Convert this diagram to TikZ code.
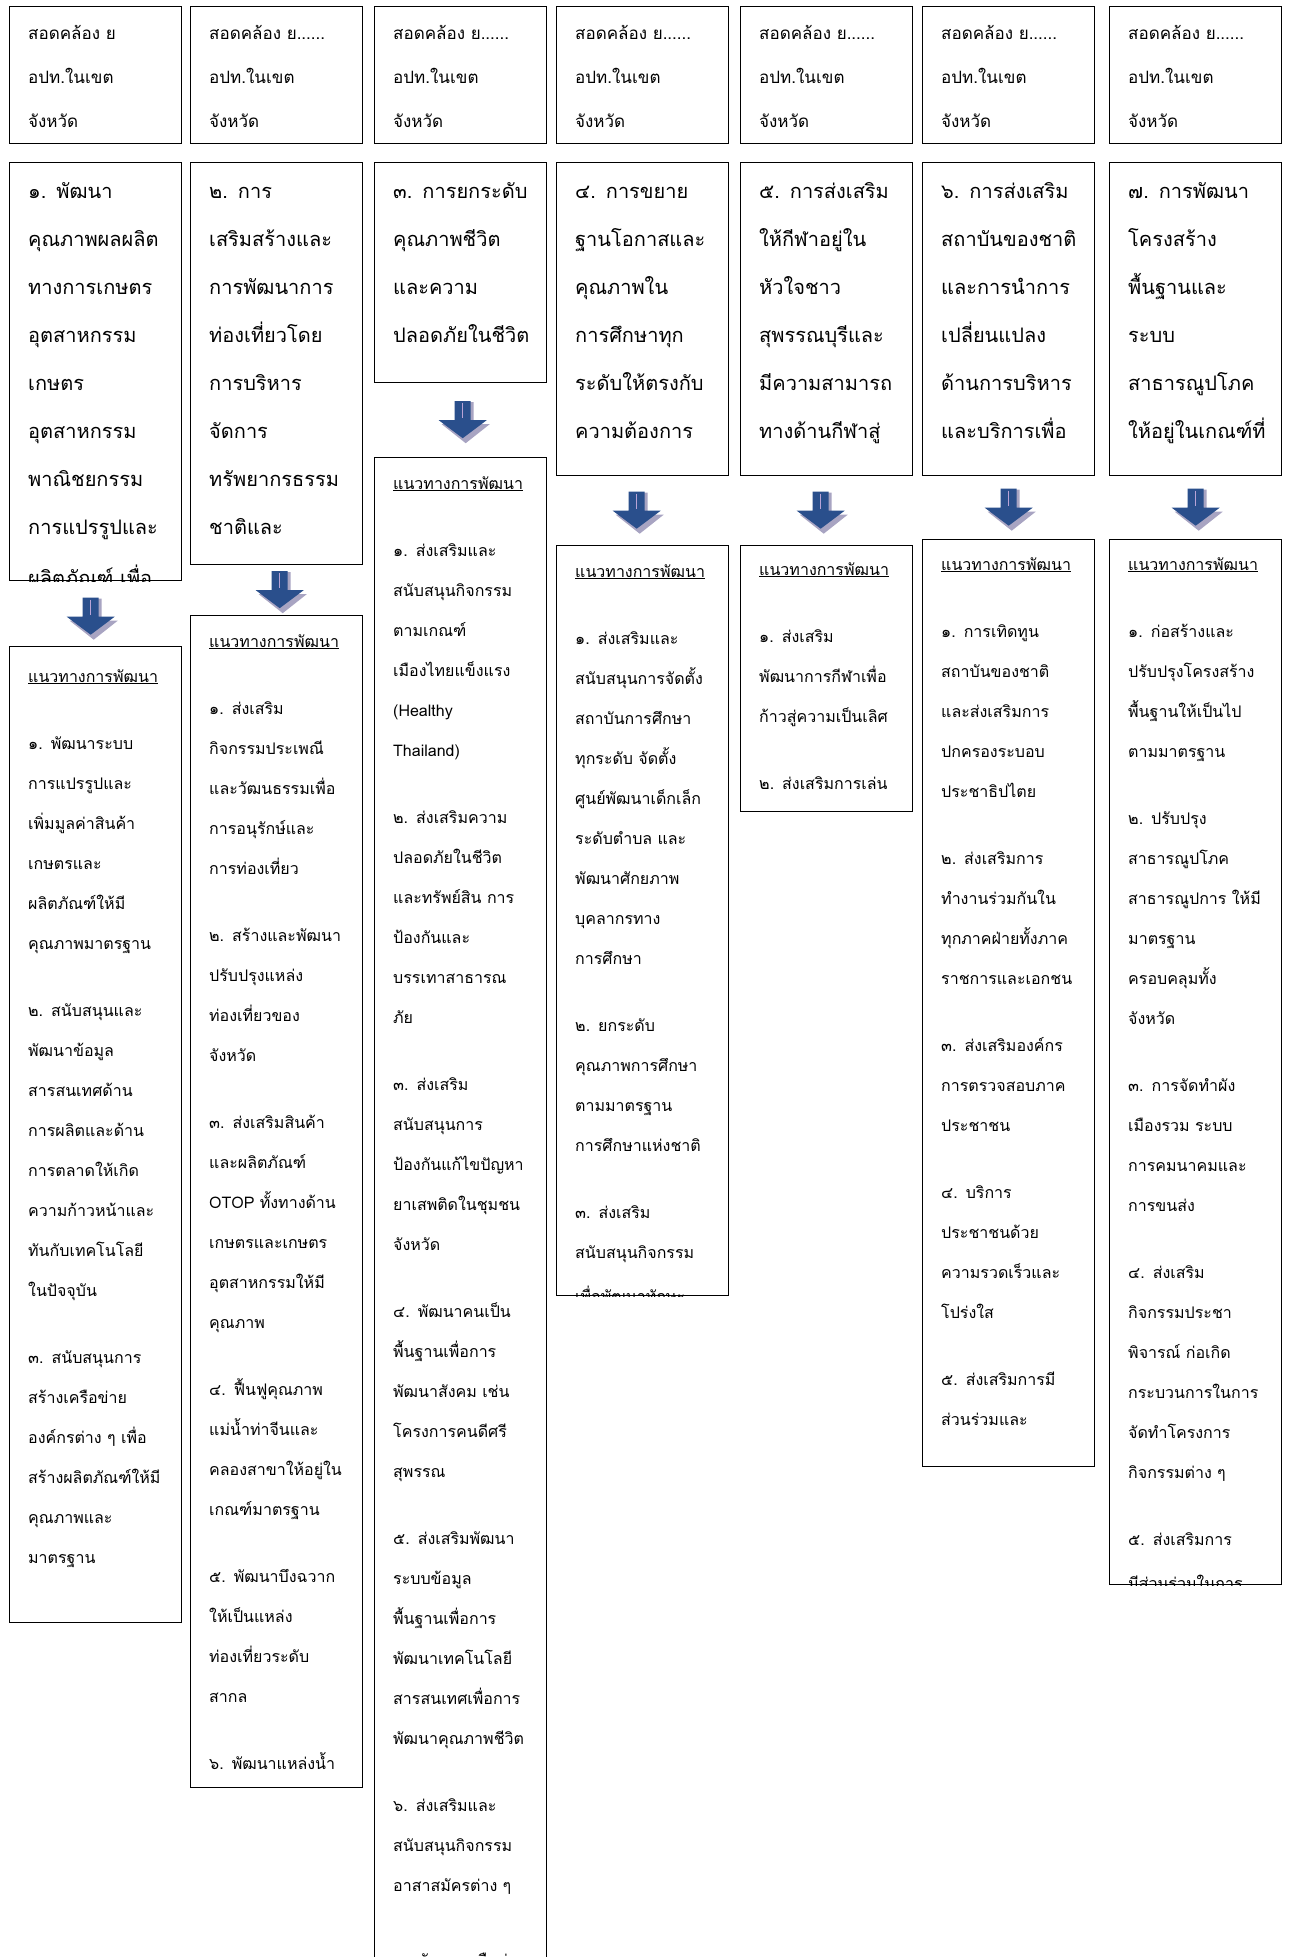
\documentclass[tikz,border=0pt]{standalone}
\usepackage{fontspec}
\setmainfont[Script=Thai]{Loma}
\usetikzlibrary{calc}
\definecolor{arrblue}{HTML}{2A4F8C}
\definecolor{arrshade}{HTML}{A8A4C2}
\definecolor{arrline}{HTML}{B9A3D6}

\begin{document}
\begin{tikzpicture}[x=1pt, y=-1pt,
  frame/.style={draw, line width=1.4pt, inner sep=0pt, anchor=north west,
                minimum width=172pt},
  link/.style={frame, minimum height=137pt},
  goal/.style={frame},
  way/.style={frame},
  toptxt/.style={font=\fontsize{17}{44}\selectfont, text width=165pt,
                 align=left, inner sep=0pt, anchor=base west},
  goaltxt/.style={font=\fontsize{20}{48}\selectfont, text width=165pt,
                  align=left, inner sep=0pt, anchor=base west},
  waytxt/.style={font=\fontsize{16}{40}\selectfont, text width=165pt,
                 align=left, inner sep=0pt, anchor=base west},
  downarr/.pic={
    \fill[arrshade] (-5,-18) -- (11,-18) -- (11,4) -- (27,4) -- (3,23) -- (-21,4) -- (-5,4) -- cycle;
    \fill[arrblue] (-8,-19) -- (8,-19) -- (8,0) -- (24,0) -- (0,18) -- (-24,0) -- (-8,0) -- cycle;
    \draw[arrline, line width=1.5pt] (0,-17) -- (0,-2);
  }
]
\path[fill=white] (0,0) rectangle (1290,1957);
\useasboundingbox (0,0) rectangle (1290,1957);

% Row 1: links to local plans
\node[link] (c1) at (9,6) {};
\node[link] (c2) at (190,6) {};
\node[link] (c3) at (374,6) {};
\node[link] (c4) at (556,6) {};
\node[link] (c5) at (740,6) {};
\node[link] (c6) at (922,6) {};
\node[link] (c7) at (1109,6) {};
\node[toptxt] (c1t) at ($(c1.north west)+(19,33)$) {สอดคล้อง ย\\อปท.ในเขต\\จังหวัด};
\node[toptxt] (c2t) at ($(c2.north west)+(19,33)$) {สอดคล้อง ย......\\อปท.ในเขต\\จังหวัด};
\node[toptxt] (c3t) at ($(c3.north west)+(19,33)$) {สอดคล้อง ย......\\อปท.ในเขต\\จังหวัด};
\node[toptxt] (c4t) at ($(c4.north west)+(19,33)$) {สอดคล้อง ย......\\อปท.ในเขต\\จังหวัด};
\node[toptxt] (c5t) at ($(c5.north west)+(19,33)$) {สอดคล้อง ย......\\อปท.ในเขต\\จังหวัด};
\node[toptxt] (c6t) at ($(c6.north west)+(19,33)$) {สอดคล้อง ย......\\อปท.ในเขต\\จังหวัด};
\node[toptxt] (c7t) at ($(c7.north west)+(19,33)$) {สอดคล้อง ย......\\อปท.ในเขต\\จังหวัด};

% Row 2: strategies
\node[goal, minimum height=418pt] (g1) at (9,162) {};
\node[goal, minimum height=402pt] (g2) at (190,162) {};
\node[goal, minimum height=220pt] (g3) at (374,162) {};
\node[goal, minimum height=313pt] (g4) at (556,162) {};
\node[goal, minimum height=313pt] (g5) at (740,162) {};
\node[goal, minimum height=313pt] (g6) at (922,162) {};
\node[goal, minimum height=313pt] (g7) at (1109,162) {};
\begin{scope}
  \clip (g1.south west) rectangle (g1.north east);
  \node[goaltxt] (g1t) at ($(g1.north west)+(19,36)$) {๑. พัฒนา\\คุณภาพผลผลิต\\ทางการเกษตร\\อุตสาหกรรม\\เกษตร\\อุตสาหกรรม\\พาณิชยกรรม\\การแปรรูปและ\\[3pt]ผลิตภัณฑ์ เพื่อ};
\end{scope}
\node[goaltxt] (g2t) at ($(g2.north west)+(19,36)$) {๒. การ\\เสริมสร้างและ\\การพัฒนาการ\\ท่องเที่ยวโดย\\การบริหาร\\จัดการ\\ทรัพยากรธรรม\\ชาติและ};
\node[goaltxt] (g3t) at ($(g3.north west)+(19,36)$) {๓. การยกระดับ\\คุณภาพชีวิต\\และความ\\ปลอดภัยในชีวิต};
\node[goaltxt] (g4t) at ($(g4.north west)+(19,36)$) {๔. การขยาย\\ฐานโอกาสและ\\คุณภาพใน\\การศึกษาทุก\\ระดับให้ตรงกับ\\ความต้องการ};
\node[goaltxt] (g5t) at ($(g5.north west)+(19,36)$) {๕. การส่งเสริม\\ให้กีฬาอยู่ใน\\หัวใจชาว\\สุพรรณบุรีและ\\มีความสามารถ\\ทางด้านกีฬาสู่};
\node[goaltxt] (g6t) at ($(g6.north west)+(19,36)$) {๖. การส่งเสริม\\สถาบันของชาติ\\และการนำการ\\เปลี่ยนแปลง\\ด้านการบริหาร\\และบริการเพื่อ};
\node[goaltxt] (g7t) at ($(g7.north west)+(19,36)$) {๗. การพัฒนา\\โครงสร้าง\\พื้นฐานและ\\ระบบ\\สาธารณูปโภค\\ให้อยู่ในเกณฑ์ที่};

% Row 3: development guidelines
\node[way, minimum height=976pt] (w1) at (9,646) {};
\node[way, minimum height=1172pt] (w2) at (190,615) {};
\node[way, minimum height=1520pt] (w3) at (374,457) {};
\node[way, minimum height=750pt] (w4) at (556,545) {};
\node[way, minimum height=266pt] (w5) at (740,545) {};
\node[way, minimum height=927pt] (w6) at (922,539) {};
\node[way, minimum height=1045pt] (w7) at (1109,539) {};

\node[waytxt] (w1t) at ($(w1.north west)+(19,36)$) {\underline{แนวทางการพัฒนา}\\[27pt]
  ๑. พัฒนาระบบ\\การแปรรูปและ\\เพิ่มมูลค่าสินค้า\\เกษตรและ\\ผลิตภัณฑ์ให้มี\\คุณภาพมาตรฐาน\\[27pt]
  ๒. สนับสนุนและ\\พัฒนาข้อมูล\\สารสนเทศด้าน\\การผลิตและด้าน\\การตลาดให้เกิด\\ความก้าวหน้าและ\\ทันกับเทคโนโลยี\\ในปัจจุบัน\\[27pt]
  ๓. สนับสนุนการ\\สร้างเครือข่าย\\องค์กรต่าง ๆ เพื่อ\\สร้างผลิตภัณฑ์ให้มี\\คุณภาพและ\\มาตรฐาน};
\node[waytxt] (w2t) at ($(w2.north west)+(19,32)$) {\underline{แนวทางการพัฒนา}\\[27pt]
  ๑. ส่งเสริม\\กิจกรรมประเพณี\\และวัฒนธรรมเพื่อ\\การอนุรักษ์และ\\การท่องเที่ยว\\[27pt]
  ๒. สร้างและพัฒนา\\ปรับปรุงแหล่ง\\ท่องเที่ยวของ\\จังหวัด\\[27pt]
  ๓. ส่งเสริมสินค้า\\และผลิตภัณฑ์\\OTOP ทั้งทางด้าน\\เกษตรและเกษตร\\อุตสาหกรรมให้มี\\คุณภาพ\\[27pt]
  ๔. ฟื้นฟูคุณภาพ\\แม่น้ำท่าจีนและ\\คลองสาขาให้อยู่ใน\\เกณฑ์มาตรฐาน\\[27pt]
  ๕. พัฒนาบึงฉวาก\\ให้เป็นแหล่ง\\ท่องเที่ยวระดับ\\สากล\\[27pt]
  ๖. พัฒนาแหล่งน้ำ};
\node[waytxt] (w3t) at ($(w3.north west)+(19,32)$) {\underline{แนวทางการพัฒนา}\\[27pt]
  ๑. ส่งเสริมและ\\สนับสนุนกิจกรรม\\ตามเกณฑ์\\เมืองไทยแข็งแรง\\(Healthy\\Thailand)\\[27pt]
  ๒. ส่งเสริมความ\\ปลอดภัยในชีวิต\\และทรัพย์สิน การ\\ป้องกันและ\\บรรเทาสาธารณ\\ภัย\\[27pt]
  ๓. ส่งเสริม\\สนับสนุนการ\\ป้องกันแก้ไขปัญหา\\ยาเสพติดในชุมชน\\จังหวัด\\[27pt]
  ๔. พัฒนาคนเป็น\\พื้นฐานเพื่อการ\\พัฒนาสังคม เช่น\\โครงการคนดีศรี\\สุพรรณ\\[27pt]
  ๕. ส่งเสริมพัฒนา\\ระบบข้อมูล\\พื้นฐานเพื่อการ\\พัฒนาเทคโนโลยี\\สารสนเทศเพื่อการ\\พัฒนาคุณภาพชีวิต\\[27pt]
  ๖. ส่งเสริมและ\\สนับสนุนกิจกรรม\\อาสาสมัครต่าง ๆ\\[35pt]
  ๗. พัฒนาเครือข่าย};
\begin{scope}
  \clip (w4.south west) rectangle (w4.north east);
  \node[waytxt] (w4t) at ($(w4.north west)+(19,32)$) {\underline{แนวทางการพัฒนา}\\[27pt]
    ๑. ส่งเสริมและ\\สนับสนุนการจัดตั้ง\\สถาบันการศึกษา\\ทุกระดับ จัดตั้ง\\ศูนย์พัฒนาเด็กเล็ก\\ระดับตำบล และ\\พัฒนาศักยภาพ\\บุคลากรทาง\\การศึกษา\\[27pt]
    ๒. ยกระดับ\\คุณภาพการศึกษา\\ตามมาตรฐาน\\การศึกษาแห่งชาติ\\[27pt]
    ๓. ส่งเสริม\\สนับสนุนกิจกรรม\\[4pt]เพื่อพัฒนาทักษะ};
\end{scope}
\node[waytxt] (w5t) at ($(w5.north west)+(19,30)$) {\underline{แนวทางการพัฒนา}\\[27pt]
  ๑. ส่งเสริม\\พัฒนาการกีฬาเพื่อ\\ก้าวสู่ความเป็นเลิศ\\[27pt]
  ๒. ส่งเสริมการเล่น};
\node[waytxt] (w6t) at ($(w6.north west)+(19,31)$) {\underline{แนวทางการพัฒนา}\\[27pt]
  ๑. การเทิดทูน\\สถาบันของชาติ\\และส่งเสริมการ\\ปกครองระบอบ\\ประชาธิปไตย\\[27pt]
  ๒. ส่งเสริมการ\\ทำงานร่วมกันใน\\ทุกภาคฝ่ายทั้งภาค\\ราชการและเอกชน\\[27pt]
  ๓. ส่งเสริมองค์กร\\การตรวจสอบภาค\\ประชาชน\\[27pt]
  ๔. บริการ\\ประชาชนด้วย\\ความรวดเร็วและ\\โปร่งใส\\[27pt]
  ๕. ส่งเสริมการมี\\ส่วนร่วมและ};
\begin{scope}
  \clip (w7.south west) rectangle (w7.north east);
  \node[waytxt] (w7t) at ($(w7.north west)+(19,31)$) {\underline{แนวทางการพัฒนา}\\[27pt]
    ๑. ก่อสร้างและ\\ปรับปรุงโครงสร้าง\\พื้นฐานให้เป็นไป\\ตามมาตรฐาน\\[27pt]
    ๒. ปรับปรุง\\สาธารณูปโภค\\สาธารณูปการ ให้มี\\มาตรฐาน\\ครอบคลุมทั้ง\\จังหวัด\\[27pt]
    ๓. การจัดทำผัง\\เมืองรวม ระบบ\\การคมนาคมและ\\การขนส่ง\\[27pt]
    ๔. ส่งเสริม\\กิจกรรมประชา\\พิจารณ์ ก่อเกิด\\กระบวนการในการ\\จัดทำโครงการ\\กิจกรรมต่าง ๆ\\[27pt]
    ๕. ส่งเสริมการ\\[4pt]มีส่วนร่วมในการ};
\end{scope}

% Arrows between strategy and guideline boxes
\pic (a1) at ($(g1.south)!0.5!(w1.north)+(-5,3)$) {downarr};
\pic (a2) at ($(g2.south)!0.5!(w2.north)+(3,0)$) {downarr};
\pic (a3) at ($(g3.south)!0.5!(w3.north)+(2,0)$) {downarr};
\pic (a4) at ($(g4.south)!0.5!(w4.north)+(-6,0)$) {downarr};
\pic (a5) at ($(g5.south)!0.5!(w5.north)+(-6,0)$) {downarr};
\pic (a6) at ($(g6.south)!0.5!(w6.north)+(0,0)$) {downarr};
\pic (a7) at ($(g7.south)!0.5!(w7.north)+(0,0)$) {downarr};

\end{tikzpicture}
\end{document}
